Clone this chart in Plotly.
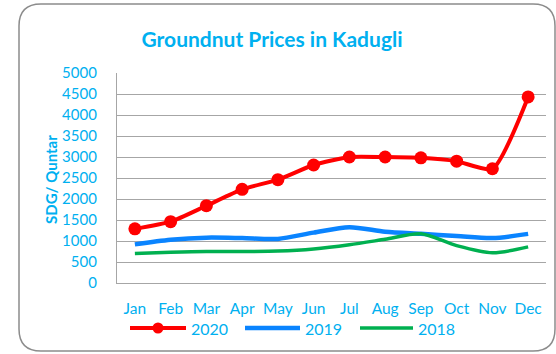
import plotly.graph_objects as go

months = ["Jan", "Feb", "Mar", "Apr", "May", "Jun", "Jul", "Aug", "Sep", "Oct", "Nov", "Dec"]
prices_2020 = [1290, 1460, 1840, 2230, 2460, 2810, 3000, 3000, 2980, 2900, 2720, 4430]
prices_2019 = [920, 1030, 1080, 1070, 1050, 1200, 1330, 1220, 1170, 1120, 1070, 1170]
prices_2018 = [700, 730, 750, 750, 760, 810, 910, 1040, 1170, 890, 720, 860]

W, H = 556, 354
L, R, T, B = 117, 10, 73, 71
PW, PH = W - L - R, H - T - B
CYAN = "#00B0F0"
FONT = "Lato"
RED, BLUE, GREEN = "#FF0000", "#0A84FF", "#00B050"


def px(x):
    return (x - L) / PW


def py(y):
    return (H - B - y) / PH


fig = go.Figure()
fig.add_trace(go.Scatter(
    x=months, y=prices_2020, name="2020", mode="lines+markers",
    line=dict(color=RED, width=4, shape="spline", smoothing=0.6),
    marker=dict(color=RED, size=13),
))
fig.add_trace(go.Scatter(
    x=months, y=prices_2019, name="2019", mode="lines",
    line=dict(color=BLUE, width=4.5, shape="spline", smoothing=0.8),
))
fig.add_trace(go.Scatter(
    x=months, y=prices_2018, name="2018", mode="lines",
    line=dict(color=GREEN, width=3.5, shape="spline", smoothing=0.8),
))

# rounded chart border
x0, x1, y0, y1 = px(19), px(555), py(351), py(4)
rx, ry = 22 / PW, 22 / PH
border = (
    f"M {x0 + rx},{y1} L {x1 - rx},{y1} Q {x1},{y1} {x1},{y1 - ry} "
    f"L {x1},{y0 + ry} Q {x1},{y0} {x1 - rx},{y0} "
    f"L {x0 + rx},{y0} Q {x0},{y0} {x0},{y0 + ry} "
    f"L {x0},{y1 - ry} Q {x0},{y1} {x0 + rx},{y1} Z"
)
shapes = [dict(type="path", path=border, xref="paper", yref="paper",
               line=dict(color="#8C8C8C", width=1.5), layer="above")]
annotations = [dict(text="<b>SDG/ Quntar</b>", textangle=-90, xref="paper", yref="paper",
                    x=px(51), y=py(180), xanchor="center", yanchor="middle",
                    showarrow=False, font=dict(size=15, color=CYAN, family=FONT))]

# legend row below the month labels
legend_y = 328
legend_items = [
    ("2020", RED, 4, 130, 186, True),
    ("2019", BLUE, 4.5, 245, 300, False),
    ("2018", GREEN, 3.5, 360, 413, False),
]
for name, color, width, lx0, lx1, dot in legend_items:
    shapes.append(dict(type="line", xref="paper", yref="paper",
                       x0=px(lx0), x1=px(lx1), y0=py(legend_y), y1=py(legend_y),
                       line=dict(color=color, width=width)))
    if dot:
        cx, r = (lx0 + lx1) / 2, 5.5
        shapes.append(dict(type="circle", xref="paper", yref="paper",
                           x0=px(cx - r), x1=px(cx + r), y0=py(legend_y + r), y1=py(legend_y - r),
                           fillcolor=color, line=dict(color=color, width=0)))
    annotations.append(dict(text=name, xref="paper", yref="paper",
                            x=px(lx1 + 3), y=py(legend_y), xanchor="left", yanchor="middle",
                            showarrow=False, font=dict(size=16, color=CYAN, family=FONT)))

fig.update_layout(
    width=W, height=H, autosize=False,
    margin=dict(l=L, r=R, t=T, b=B, autoexpand=False),
    paper_bgcolor="white", plot_bgcolor="white",
    font=dict(family=FONT, color=CYAN, size=16),
    title=dict(text="<b>Groundnut Prices in Kadugli</b>", x=px(272), xref="paper",
               xanchor="center", y=1 - 40 / H, yanchor="middle",
               font=dict(size=21, color=CYAN, family=FONT)),
    showlegend=False,
    shapes=shapes,
    annotations=annotations,
)
fig.update_xaxes(
    range=[-0.5, 11.5], automargin=False,
    showgrid=False, showline=True, linecolor="#A6A6A6", linewidth=1.2,
    tickfont=dict(size=15.5, color=CYAN), ticks="", ticklabelstandoff=11,
)
fig.update_yaxes(
    range=[0, 5000], dtick=500, automargin=False,
    showgrid=True, gridcolor="#A6A6A6", gridwidth=1.2,
    showline=True, linecolor="#A6A6A6", linewidth=1.2, zeroline=False,
    tickfont=dict(size=15, color=CYAN), ticks="", ticklabelstandoff=16,
)

fig.write_html("out.html")
